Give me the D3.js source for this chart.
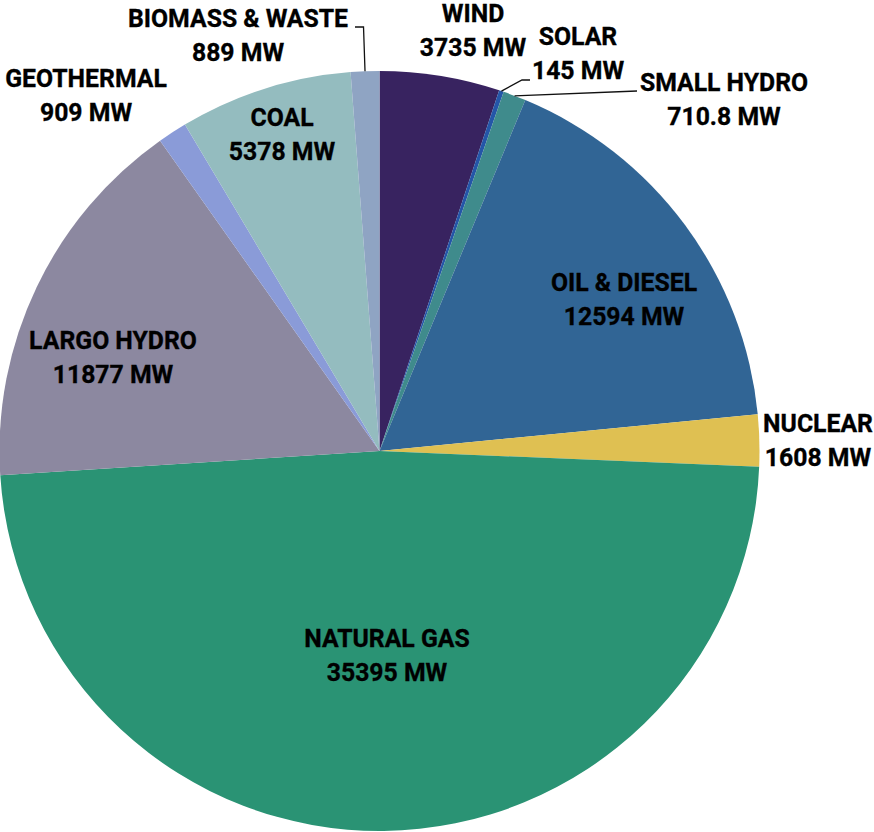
<!DOCTYPE html>
<html>
<head>
<meta charset="utf-8">
<script src="https://cdn.jsdelivr.net/npm/d3@7"></script>
<style>
  html, body { margin: 0; padding: 0; background: #ffffff; }
  svg { display: block; }
  text { font-family: Roboto, "Noto Sans", sans-serif; font-weight: 700; fill: #000000; stroke: #000000; stroke-width: 0.35px; }
</style>
</head>
<body>
<svg id="chart" width="874" height="832"></svg>
<script>
// ---- data ----
const categories = ["WIND", "SOLAR", "SMALL HYDRO", "OIL & DIESEL", "NUCLEAR", "NATURAL GAS", "LARGO HYDRO", "GEOTHERMAL", "COAL", "BIOMASS & WASTE"];
const values = [3735, 145, 710.8, 12594, 1608, 35395, 11877, 909, 5378, 889];
const valueLabels = ["3735 MW", "145 MW", "710.8 MW", "12594 MW", "1608 MW", "35395 MW", "11877 MW", "909 MW", "5378 MW", "889 MW"];
const colors = ["#382360", "#2456a8", "#3f8b8c", "#316595", "#dfc052", "#2a9374", "#8c88a0", "#8a9bd8", "#94bcbf", "#8fa4c3"];

// ---- layout (label anchors: centre x, first baseline y) ----
const labelAnchor = [
  [473, 22], [578, 45], [724, 91], [624, 291], [818, 432],
  [387, 647], [113, 349], [86, 87], [282, 126], [238, 27]
];
const lineGap = 34;
const fontSize = 26.5;
const squeeze = 0.935;

const svg = d3.select("#chart");
const cx = 379.5, cy = 451, R = 380;

const pie = d3.pie().value(d => d.v).sort(null);
const data = categories.map((c, i) => ({ c, v: values[i], l: valueLabels[i], col: colors[i], i }));
const arcs = pie(data);
const arc = d3.arc().innerRadius(0).outerRadius(R);

const g = svg.append("g").attr("transform", `translate(${cx},${cy})`);
g.selectAll("path").data(arcs).enter().append("path")
  .attr("d", arc)
  .attr("fill", d => d.data.col);

// leader lines from the slice edge
const edge = d3.arc().innerRadius(R).outerRadius(R);
function edgePt(i) { const p = edge.centroid(arcs[i]); return [p[0] + cx, p[1] + cy]; }
const line = d3.line();
const leaders = [
  { i: 9, pts: p => [p, [p[0] - 1.5, 27], [355, 27]] },
  { i: 1, pts: p => [p, [522, 80], [530, 80]] },
  { i: 2, pts: p => [p, [637, 91]] }
];
svg.selectAll("path.leader").data(leaders).enter().append("path")
  .attr("class", "leader")
  .attr("d", d => line(d.pts(edgePt(d.i))))
  .attr("fill", "none").attr("stroke", "#111").attr("stroke-width", 1.3);

// labels
const lab = svg.selectAll("g.lab").data(data).enter().append("g")
  .attr("class", "lab")
  .attr("transform", d => `translate(${labelAnchor[d.i][0]},${labelAnchor[d.i][1]}) scale(${squeeze},1)`);
lab.append("text").attr("text-anchor", "middle").attr("font-size", fontSize).text(d => d.c);
lab.append("text").attr("text-anchor", "middle").attr("font-size", fontSize).attr("y", lineGap).text(d => d.l);
</script>
</body>
</html>
